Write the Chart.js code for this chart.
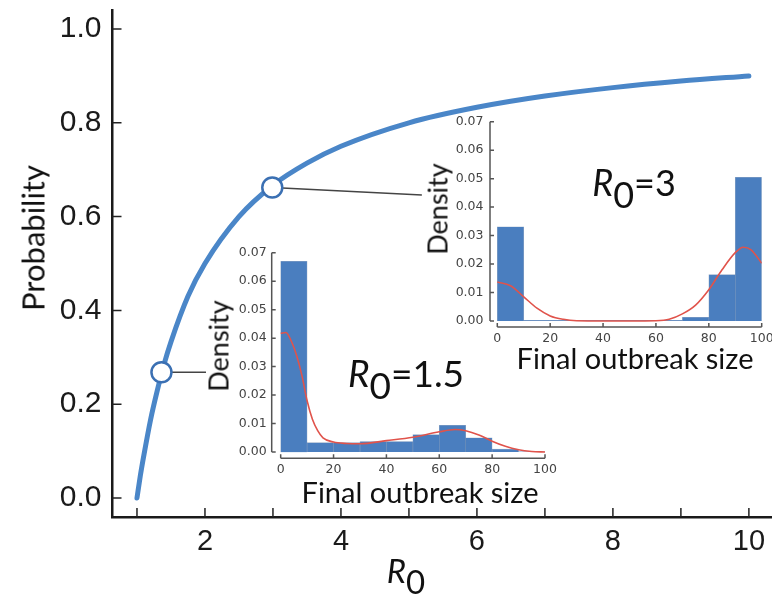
<!DOCTYPE html>
<html lang="en">
<head>
<meta charset="UTF-8">
<title>Probability of a major outbreak vs R0</title>
<script src="https://cdn.jsdelivr.net/npm/chart.js"></script>
<style>
    body { margin: 0; background: #fff; }
    .wrap { position: relative; width: 772px; height: 594px; overflow: hidden; background: #fff; }
    canvas { position: absolute; }
    .lbl {
        position: absolute;
        font-family: Lato, 'Open Sans', sans-serif;
        color: #111;
        white-space: nowrap;
        line-height: 1;
        transform: translate(-50%, -50%);
    }
    .rot { transform: translate(-50%, -50%) rotate(-90deg); }
    .sub { position: relative; top: 0.33em; }
</style>
</head>
<body>
<div class="wrap">
    <canvas id="main" width="772" height="594" style="left:0;top:0"></canvas>
    <canvas id="inset15" width="365" height="240" style="left:195px;top:240px"></canvas>
    <canvas id="inset3" width="357" height="240" style="left:415px;top:110px"></canvas>

    <div class="lbl rot" style="left:33px;top:238px;font-size:31px">Probability</div>
    <div class="lbl" style="left:406px;top:570px;font-size:33px"><i>R</i><span class="sub">0</span></div>

    <div class="lbl rot" style="left:218px;top:346px;font-size:27px">Density</div>
    <div class="lbl" style="left:420px;top:491px;font-size:29px">Final outbreak size</div>
    <div class="lbl" style="left:406px;top:372px;font-size:37px"><i>R</i><span class="sub">0</span>=1.5</div>

    <div class="lbl rot" style="left:437px;top:209px;font-size:27px">Density</div>
    <div class="lbl" style="left:635px;top:357px;font-size:29px">Final outbreak size</div>
    <div class="lbl" style="left:634px;top:182px;font-size:36px"><i>R</i><span class="sub">0</span>=3</div>
</div>

<script>
    // main curve: probability of a major outbreak against R0
    const curveR0 = [1, 1.05, 1.1, 1.2, 1.3, 1.4, 1.5, 1.75, 2, 2.5, 3, 3.5, 4, 5, 6, 7, 8, 9, 10];
    const curveP  = [0, 0.048, 0.09, 0.167, 0.23, 0.286, 0.333, 0.43, 0.5, 0.6, 0.667, 0.714, 0.75, 0.8, 0.833, 0.857, 0.875, 0.889, 0.9];

    // open circles and the lines that join them to the insets
    const markerR0 = [1.36, 2.99];
    const markerP  = [0.268, 0.662];
    const link15R0 = [1.36, 2.015];
    const link15P  = [0.268, 0.268];
    const link3R0  = [2.99, 5.19];
    const link3P   = [0.662, 0.646];

    const mainXTicks = [2, 4, 6, 8, 10];
    const mainXMinor = [1, 2, 3, 4, 5, 6, 7, 8, 9, 10];
    const mainYTicks = [0, 0.2, 0.4, 0.6, 0.8, 1.0];

    // histograms of final outbreak size
    const binCenters = [5, 15, 25, 35, 45, 55, 65, 75, 85, 95];
    const densR15 = [0.067, 0.0033, 0.0033, 0.0037, 0.0037, 0.0061, 0.0094, 0.005, 0.001, 0.0001];
    const densR3  = [0.0331, 0.0002, 0.0002, 0.0002, 0.0002, 0.0002, 0.0002, 0.0013, 0.0163, 0.0505];

    // smoothed density curves
    const kde15X = [0, 2, 4, 6, 8, 10, 12, 14, 16, 20, 25, 30, 40, 50, 60, 66, 70, 75, 80, 85, 90, 95, 100];
    const kde15Y = [0.0417, 0.042, 0.039, 0.034, 0.027, 0.018, 0.0115, 0.0075, 0.005, 0.0035, 0.003, 0.0029, 0.004, 0.0052, 0.0071, 0.0079, 0.0075, 0.006, 0.0038, 0.002, 0.0008, 0.0002, 0];
    const kde3X  = [0, 5, 10, 15, 20, 25, 30, 40, 50, 60, 65, 70, 75, 80, 85, 90, 93, 96, 100];
    const kde3Y  = [0.0137, 0.0124, 0.0085, 0.0045, 0.0018, 0.0006, 0.0001, 0, 0, 0.0001, 0.0006, 0.0025, 0.0056, 0.011, 0.018, 0.024, 0.0259, 0.025, 0.0203];

    const insetXTicks = [0, 20, 40, 60, 80, 100];
    const insetYTicks = [0, 0.01, 0.02, 0.03, 0.04, 0.05, 0.06, 0.07];

    const pts = (xs, ys) => xs.map((x, i) => ({ x: x, y: ys[i] }));

    // ticks drawn inward, and spines that only span the labelled range
    const axisTicks = {
        id: 'axisTicks',
        afterDraw(chart, args, o) {
            const { ctx, chartArea: a, scales: { x, y } } = chart;
            ctx.save();
            ctx.strokeStyle = o.color;
            ctx.lineWidth = o.width;
            ctx.beginPath();
            if (o.spines) {
                const y0 = y.getPixelForValue(o.yTicks[0]);
                const y1 = y.getPixelForValue(o.yTicks[o.yTicks.length - 1]);
                const x0 = x.getPixelForValue(o.xTicks[0]);
                const x1 = x.getPixelForValue(o.xTicks[o.xTicks.length - 1]);
                ctx.moveTo(a.left, y0); ctx.lineTo(a.left, y1);
                ctx.moveTo(x0, a.bottom); ctx.lineTo(x1, a.bottom);
            }
            o.xTicks.forEach(v => {
                const px = x.getPixelForValue(v);
                ctx.moveTo(px, a.bottom);
                ctx.lineTo(px, a.bottom - o.len);
            });
            o.yTicks.forEach(v => {
                const py = y.getPixelForValue(v);
                ctx.moveTo(a.left, py);
                ctx.lineTo(a.left + o.len, py);
            });
            ctx.stroke();
            ctx.restore();
        }
    };

    // keep the chart area where it is in the picture, whatever the label sizes
    const noPad = s => { s.paddingTop = 0; s.paddingBottom = 0; s.paddingLeft = 0; s.paddingRight = 0; };

    new Chart(document.getElementById('main'), {
        type: 'line',
        data: {
            datasets: [
                {
                    data: pts(markerR0, markerP),
                    showLine: false,
                    pointRadius: 10,
                    pointBackgroundColor: '#ffffff',
                    pointBorderColor: '#3b70b3',
                    pointBorderWidth: 2.5
                },
                {
                    data: pts(curveR0, curveP),
                    borderColor: '#4a86c8',
                    borderWidth: 5,
                    borderCapStyle: 'round',
                    pointRadius: 0,
                    cubicInterpolationMode: 'monotone',
                    fill: false
                },
                {
                    data: pts(link15R0, link15P),
                    borderColor: '#444',
                    borderWidth: 1.5,
                    pointRadius: 0
                },
                {
                    data: pts(link3R0, link3P),
                    borderColor: '#444',
                    borderWidth: 1.5,
                    pointRadius: 0
                }
            ]
        },
        options: {
            responsive: false,
            animation: false,
            events: [],
            layout: { autoPadding: false, padding: { top: 10, right: 0, left: 0, bottom: 0 } },
            plugins: {
                legend: { display: false },
                tooltip: { enabled: false },
                axisTicks: { xTicks: mainXMinor, yTicks: mainYTicks, len: 9, color: '#222', width: 1.5, spines: false }
            },
            scales: {
                x: {
                    type: 'linear',
                    min: 0.64,
                    max: 10.34,
                    grid: { display: false, drawTicks: false },
                    border: { display: true, color: '#1a1a1a', width: 2.5 },
                    ticks: {
                        autoSkip: false,
                        maxRotation: 0,
                        padding: 8,
                        color: '#1a1a1a',
                        font: { family: "'Liberation Sans', Arial, sans-serif", size: 29 },
                        callback: v => v
                    },
                    afterBuildTicks: s => { s.ticks = mainXTicks.map(v => ({ value: v })); },
                    afterFit: s => { s.height = 77; noPad(s); }
                },
                y: {
                    min: -0.0405,
                    max: 1.0405,
                    grid: { display: false, drawTicks: false },
                    border: { display: true, color: '#1a1a1a', width: 2.5 },
                    ticks: {
                        autoSkip: false,
                        padding: 11,
                        color: '#1a1a1a',
                        font: { family: "'Liberation Sans', Arial, sans-serif", size: 30 },
                        callback: v => v.toFixed(1)
                    },
                    afterBuildTicks: s => { s.ticks = mainYTicks.map(v => ({ value: v })); },
                    afterFit: s => { s.width = 112.5; noPad(s); }
                }
            }
        },
        plugins: [axisTicks]
    });

    // box: canvas position on the page; area: wanted chart area on the page
    function makeInset(id, box, area, xMin, yMin, labelPad, dens, kx, ky) {
        new Chart(document.getElementById(id), {
            data: {
                datasets: [
                    {
                        type: 'line',
                        data: pts(kx, ky),
                        borderColor: '#e0534b',
                        borderWidth: 1.6,
                        pointRadius: 0,
                        cubicInterpolationMode: 'monotone',
                        fill: false
                    },
                    {
                        type: 'bar',
                        data: pts(binCenters, dens),
                        backgroundColor: '#4a7ebf',
                        borderColor: 'rgba(55, 95, 150, 0.55)',
                        borderWidth: 0.6,
                        barPercentage: 1,
                        categoryPercentage: 1
                    }
                ]
            },
            options: {
                responsive: false,
                animation: false,
                events: [],
                layout: {
                    autoPadding: false,
                    padding: { top: area.top - box.top, right: box.left + box.w - area.right, left: 0, bottom: 0 }
                },
                plugins: {
                    legend: { display: false },
                    tooltip: { enabled: false },
                    axisTicks: { xTicks: insetXTicks, yTicks: insetYTicks, len: 4, color: '#555', width: 1.5, spines: true }
                },
                scales: {
                    x: {
                        type: 'linear',
                        offset: false,
                        min: xMin,
                        max: 100,
                        grid: { display: false, drawTicks: false },
                        border: { display: false },
                        ticks: {
                            autoSkip: false,
                            maxRotation: 0,
                            padding: 4,
                            color: '#444',
                            font: { family: "'DejaVu Sans', sans-serif", size: 12.5 }
                        },
                        afterBuildTicks: s => { s.ticks = insetXTicks.map(v => ({ value: v })); },
                        afterFit: s => { s.height = box.top + box.h - area.bottom; noPad(s); }
                    },
                    y: {
                        min: yMin,
                        max: 0.07,
                        grid: { display: false, drawTicks: false },
                        border: { display: false },
                        ticks: {
                            autoSkip: false,
                            padding: labelPad,
                            color: '#444',
                            font: { family: "'DejaVu Sans', sans-serif", size: 12.5 },
                            callback: v => v.toFixed(2)
                        },
                        afterBuildTicks: s => { s.ticks = insetYTicks.map(v => ({ value: v })); },
                        afterFit: s => { s.width = area.left - box.left; noPad(s); }
                    }
                }
            },
            plugins: [axisTicks]
        });
    }

    makeInset('inset15', { left: 195, top: 240, w: 365, h: 240 },
        { left: 271.7, top: 252.7, right: 545, bottom: 458.3 },
        -3.4, -0.0022, 5, densR15, kde15X, kde15Y);

    makeInset('inset3', { left: 415, top: 110, w: 357, h: 240 },
        { left: 490, top: 121.7, right: 761.7, bottom: 327 },
        -2.76, -0.0021, 6.5, densR3, kde3X, kde3Y);
</script>
</body>
</html>
